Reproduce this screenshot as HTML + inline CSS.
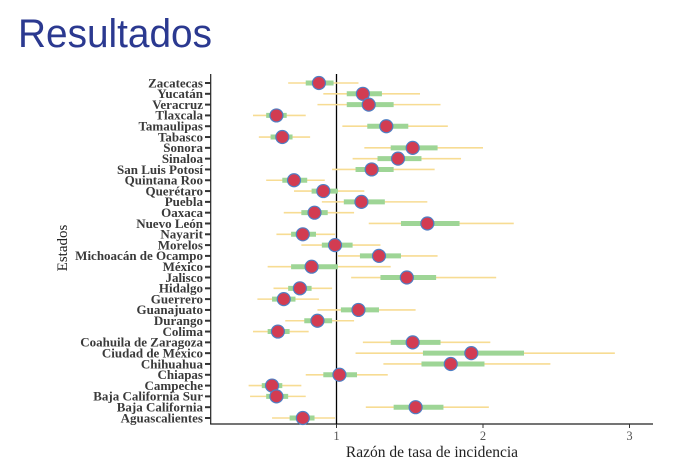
<!DOCTYPE html>
<html><head><meta charset="utf-8"><style>
body{margin:0;background:#fff;width:677px;height:468px;overflow:hidden}
svg{display:block}
</style></head><body>
<svg id="c" width="677" height="468" xmlns="http://www.w3.org/2000/svg">
<text x="18" y="47" font-family="Liberation Sans, sans-serif" font-size="40" fill="#2b3990" textLength="194" lengthAdjust="spacingAndGlyphs">Resultados</text>
<g id="plot"></g>
</svg>
<script>
const states=["Zacatecas","Yucatán","Veracruz","Tlaxcala","Tamaulipas","Tabasco","Sonora","Sinaloa","San Luis Potosí","Quintana Roo","Querétaro","Puebla","Oaxaca","Nuevo León","Nayarit","Morelos","Michoacán de Ocampo","México","Jalisco","Hidalgo","Guerrero","Guanajuato","Durango","Colima","Coahuila de Zaragoza","Ciudad de México","Chihuahua","Chiapas","Campeche","Baja California Sur","Baja California","Aguascalientes"];
const est=[0.88,1.18,1.22,0.59,1.34,0.63,1.52,1.42,1.24,0.71,0.91,1.17,0.85,1.62,0.77,0.99,1.29,0.83,1.48,0.75,0.64,1.15,0.87,0.60,1.52,1.92,1.78,1.02,0.56,0.59,1.54,0.77];
const lo95=[0.67,0.91,0.87,0.43,1.04,0.47,1.19,1.11,0.97,0.52,0.71,0.90,0.64,1.22,0.59,0.76,1.01,0.53,1.10,0.57,0.46,0.87,0.65,0.43,1.18,1.13,1.32,0.79,0.40,0.41,1.20,0.56];
const hi95=[1.15,1.57,1.71,0.79,1.76,0.82,2.00,1.85,1.67,0.92,1.19,1.62,1.12,2.21,0.99,1.30,1.69,1.37,2.09,0.97,0.88,1.54,1.12,0.81,2.05,2.90,2.46,1.35,0.76,0.79,2.04,0.99];
const lo50=[0.79,1.07,1.07,0.52,1.21,0.55,1.37,1.28,1.13,0.63,0.83,1.05,0.76,1.44,0.69,0.90,1.16,0.69,1.30,0.67,0.56,1.03,0.78,0.53,1.37,1.59,1.58,0.91,0.49,0.52,1.39,0.68];
const hi50=[0.98,1.31,1.39,0.66,1.49,0.70,1.69,1.58,1.39,0.80,1.01,1.33,0.94,1.84,0.86,1.11,1.44,1.01,1.68,0.83,0.72,1.29,0.97,0.68,1.71,2.28,2.01,1.14,0.63,0.67,1.73,0.85];
const xticks=[1,2,3];
const NS="http://www.w3.org/2000/svg";
const g=document.getElementById('plot');
const X=v=>336.5+(v-1)*146.5;
const Y=i=>83+i*(418-83)/31;
function mk(t,a,p){const e=document.createElementNS(NS,t);for(const k in a)e.setAttribute(k,a[k]);(p||g).appendChild(e);return e;}
let ax=mk('line',{x1:210.7,y1:74,x2:210.7,y2:424,stroke:'#222','stroke-width':1.2});


let bx=mk('line',{x1:210.1,y1:424,x2:653,y2:424,stroke:'#222','stroke-width':1.2});


let ref=mk('line',{x1:X(1),y1:74,x2:X(1),y2:424,stroke:'#000','stroke-width':1.3});


xticks.forEach(t=>{
  let tk=mk('line',{x1:X(t),y1:424,x2:X(t),y2:428,stroke:'#333','stroke-width':1});
  
  
  let tl=mk('text',{x:X(t),y:440,'text-anchor':'middle','font-family':'Liberation Serif, serif','font-size':12.5,fill:'#555'});
  tl.textContent=t;
  
  
});
let xt=mk('text',{x:432,y:457,'text-anchor':'middle','font-family':'Liberation Serif, serif','font-size':15.5,fill:'#222'});
xt.textContent='Razón de tasa de incidencia';


let yt=mk('text',{x:0,y:0,'text-anchor':'middle','font-family':'Liberation Serif, serif','font-size':15,fill:'#222',transform:'translate(67,248) rotate(-90)'});
yt.textContent='Estados';


states.forEach((s,i)=>{
  const y=Y(i);
  let tk=mk('line',{x1:205,y1:y,x2:210.7,y2:y,stroke:'#333','stroke-width':2});
  
  
  let lb=mk('text',{x:203,y:y+4.3,'text-anchor':'end','font-family':'Liberation Serif, serif','font-size':13,'font-weight':'bold',fill:'#3a3a3a'});
  lb.textContent=s;
  
  
  let o=mk('line',{x1:X(lo95[i]),y1:y,x2:X(hi95[i]),y2:y,stroke:'#f7dc93','stroke-width':1.6});
  
  
  let n=mk('line',{x1:X(lo50[i]),y1:y,x2:X(hi50[i]),y2:y,stroke:'#9ed596','stroke-width':5});
  
  
  let p=mk('circle',{cx:X(est[i]),cy:y,r:6.5,fill:'#d23c52',stroke:'#4f7fc4','stroke-width':1.2});
  
  
});
</script>
</body></html>
